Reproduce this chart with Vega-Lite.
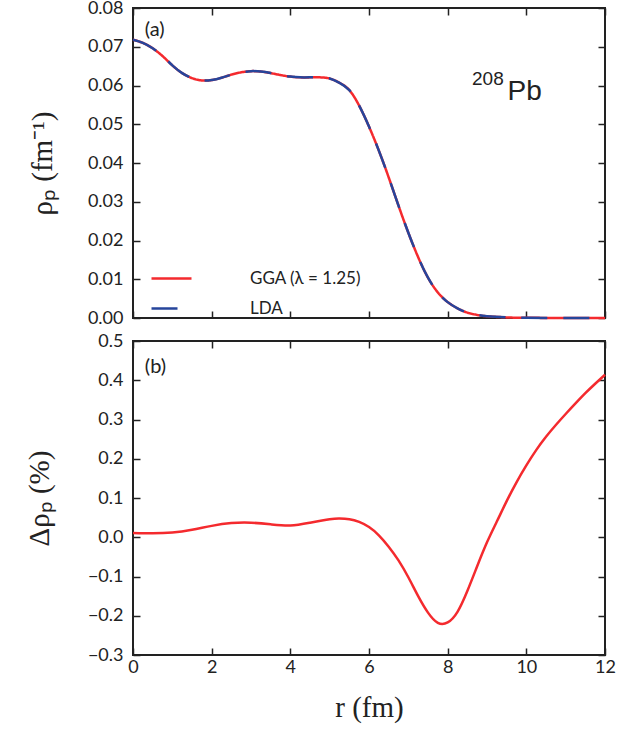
{
  "$schema": "https://vega.github.io/schema/vega-lite/v6.json",
  "autosize": {"type": "none"},
  "padding": {"left": 133, "top": 8, "right": 485, "bottom": 728},
  "config": {
    "view": {"stroke": "#222", "strokeWidth": 2},
    "font": "Lato",
    "axis": {
      "domain": false, "grid": false, "tickSize": -7, "tickWidth": 1.5, "tickColor": "#222",
      "labelFont": "Lato", "labelFontSize": 18, "labelColor": "#222",
      "labelFlush": false, "labelOverlap": false, "labelBound": false,
      "titleFont": "Liberation Serif", "titleFontWeight": "normal", "titleFontSize": 29, "titleColor": "#222"
    }
  },
  "datasets": {
    "top": [
      {"r": 0.0, "GGA": 0.0718, "LDA": 0.0718},
      {"r": 0.25, "GGA": 0.0710, "LDA": 0.0710},
      {"r": 0.5, "GGA": 0.0696, "LDA": 0.0696},
      {"r": 0.75, "GGA": 0.0676, "LDA": 0.0676},
      {"r": 1.0, "GGA": 0.0652, "LDA": 0.0652},
      {"r": 1.25, "GGA": 0.0632, "LDA": 0.0632},
      {"r": 1.5, "GGA": 0.0619, "LDA": 0.0619},
      {"r": 1.75, "GGA": 0.0613, "LDA": 0.0613},
      {"r": 2.0, "GGA": 0.0614, "LDA": 0.0614},
      {"r": 2.25, "GGA": 0.0620, "LDA": 0.0620},
      {"r": 2.5, "GGA": 0.0628, "LDA": 0.0628},
      {"r": 2.75, "GGA": 0.0634, "LDA": 0.0634},
      {"r": 3.0, "GGA": 0.0637, "LDA": 0.0637},
      {"r": 3.25, "GGA": 0.0636, "LDA": 0.0636},
      {"r": 3.5, "GGA": 0.0632, "LDA": 0.0632},
      {"r": 3.75, "GGA": 0.0627, "LDA": 0.0627},
      {"r": 4.0, "GGA": 0.0623, "LDA": 0.0623},
      {"r": 4.25, "GGA": 0.0621, "LDA": 0.0621},
      {"r": 4.5, "GGA": 0.0621, "LDA": 0.0621},
      {"r": 4.75, "GGA": 0.0621, "LDA": 0.0621},
      {"r": 5.0, "GGA": 0.0618, "LDA": 0.0618},
      {"r": 5.25, "GGA": 0.0607, "LDA": 0.0607},
      {"r": 5.5, "GGA": 0.0588, "LDA": 0.0588},
      {"r": 5.75, "GGA": 0.0548, "LDA": 0.0548},
      {"r": 6.0, "GGA": 0.0494, "LDA": 0.0494},
      {"r": 6.25, "GGA": 0.0432, "LDA": 0.0432},
      {"r": 6.5, "GGA": 0.0363, "LDA": 0.0363},
      {"r": 6.75, "GGA": 0.0290, "LDA": 0.0290},
      {"r": 7.0, "GGA": 0.0220, "LDA": 0.0220},
      {"r": 7.25, "GGA": 0.0157, "LDA": 0.0157},
      {"r": 7.5, "GGA": 0.0104, "LDA": 0.0104},
      {"r": 7.75, "GGA": 0.0066, "LDA": 0.0066},
      {"r": 8.0, "GGA": 0.0041, "LDA": 0.0041},
      {"r": 8.25, "GGA": 0.0025, "LDA": 0.0025},
      {"r": 8.5, "GGA": 0.0014, "LDA": 0.0014},
      {"r": 8.75, "GGA": 0.0008, "LDA": 0.0008},
      {"r": 9.0, "GGA": 0.00045, "LDA": 0.00045},
      {"r": 9.5, "GGA": 0.00015, "LDA": 0.00015},
      {"r": 10.0, "GGA": 0.00005, "LDA": 0.00005},
      {"r": 11.0, "GGA": 0.00001, "LDA": 0.00001},
      {"r": 12.0, "GGA": 0.0, "LDA": 0.0}
    ],
    "bottom": [
      {"r": 0.0, "d": 0.011},
      {"r": 0.5, "d": 0.010},
      {"r": 1.0, "d": 0.012},
      {"r": 1.5, "d": 0.019},
      {"r": 2.0, "d": 0.029},
      {"r": 2.5, "d": 0.036},
      {"r": 3.0, "d": 0.037},
      {"r": 3.5, "d": 0.033},
      {"r": 4.0, "d": 0.030},
      {"r": 4.5, "d": 0.037},
      {"r": 5.0, "d": 0.046},
      {"r": 5.25, "d": 0.048},
      {"r": 5.5, "d": 0.046},
      {"r": 5.75, "d": 0.039},
      {"r": 6.0, "d": 0.026},
      {"r": 6.25, "d": 0.005},
      {"r": 6.5, "d": -0.024},
      {"r": 6.75, "d": -0.059},
      {"r": 7.0, "d": -0.102},
      {"r": 7.25, "d": -0.150},
      {"r": 7.5, "d": -0.192},
      {"r": 7.75, "d": -0.218},
      {"r": 8.0, "d": -0.217},
      {"r": 8.25, "d": -0.190},
      {"r": 8.5, "d": -0.137},
      {"r": 8.75, "d": -0.074},
      {"r": 9.0, "d": -0.013},
      {"r": 9.25, "d": 0.040},
      {"r": 9.5, "d": 0.092},
      {"r": 9.75, "d": 0.140},
      {"r": 10.0, "d": 0.183},
      {"r": 10.25, "d": 0.222},
      {"r": 10.5, "d": 0.256},
      {"r": 10.75, "d": 0.286},
      {"r": 11.0, "d": 0.314},
      {"r": 11.25, "d": 0.341},
      {"r": 11.5, "d": 0.367},
      {"r": 11.75, "d": 0.391},
      {"r": 12.0, "d": 0.414}
    ]
  },
  "spacing": 23,
  "bounds": "flush",
  "resolve": {"legend": {"stroke": "independent", "strokeDash": "independent"}},
  "vconcat": [
    {
      "width": 472,
      "height": 310,
      "layer": [
        {
          "data": {"name": "top"},
          "transform": [{"fold": ["GGA", "LDA"], "as": ["model", "rho"]}],
          "mark": {"type": "line", "interpolate": "natural", "strokeWidth": 2.5},
          "encoding": {
            "x": {"field": "r", "type": "quantitative", "scale": {"domain": [0, 12], "nice": false},
                  "axis": {"orient": "bottom", "values": [0, 2, 4, 6, 8, 10, 12], "labels": false, "title": null}},
            "y": {"field": "rho", "type": "quantitative", "scale": {"domain": [0, 0.08], "nice": false, "zero": false},
                  "axis": {"orient": "left", "values": [0, 0.01, 0.02, 0.03, 0.04, 0.05, 0.06, 0.07, 0.08], "format": ".2f",
                           "labelPadding": 17, "title": "ρₚ (fm⁻¹)", "titlePadding": 30}},
            "stroke": {"field": "model", "type": "nominal",
                       "scale": {"domain": ["GGA", "LDA"], "range": ["#f42a2e", "#26459b"]},
                       "legend": {"title": null, "orient": "none", "legendX": 17, "legendY": 249, "padding": 0,
                                  "symbolType": "stroke", "symbolSize": 1600, "symbolStrokeWidth": 2.5,
                                  "labelOffset": 57, "labelFont": "Lato", "labelFontSize": 17, "labelColor": "#222",
                                  "rowPadding": -18,
                                  "labelExpr": "datum.label == 'GGA' ? 'GGA (λ = 1.25)' : 'LDA'"}},
            "strokeDash": {"field": "model", "type": "nominal",
                           "scale": {"domain": ["GGA", "LDA"], "range": [[1, 0], [26, 16]]},
                           "legend": {"title": null, "orient": "none", "legendX": 17, "legendY": 249, "padding": 0,
                                      "symbolType": "stroke", "symbolSize": 1600, "symbolStrokeWidth": 2.5,
                                      "labelOffset": 57, "labelFont": "Lato", "labelFontSize": 17, "labelColor": "#222",
                                      "rowPadding": -18,
                                      "labelExpr": "datum.label == 'GGA' ? 'GGA (λ = 1.25)' : 'LDA'"}}
          }
        },
        {
          "data": {"name": "top"},
          "mark": {"type": "line", "strokeOpacity": 0},
          "encoding": {
            "x": {"field": "r", "type": "quantitative", "axis": {"orient": "top", "values": [0, 2, 4, 6, 8, 10, 12], "labels": false, "title": null}},
            "y": {"field": "GGA", "type": "quantitative", "axis": {"orient": "right", "values": [0, 0.01, 0.02, 0.03, 0.04, 0.05, 0.06, 0.07, 0.08], "labels": false, "title": null}}
          }
        },
        {
          "data": {"values": [{"label": "(a)"}]},
          "mark": {"type": "text", "align": "left", "baseline": "middle", "font": "Lato", "fontSize": 20, "color": "#222"},
          "encoding": {
            "x": {"datum": 0.3, "type": "quantitative", "axis": null},
            "y": {"datum": 0.0742, "type": "quantitative", "axis": null},
            "text": {"field": "label"}
          }
        },
        {
          "data": {"values": [{"label": "208"}]},
          "mark": {"type": "text", "align": "left", "baseline": "alphabetic", "font": "Liberation Sans", "fontSize": 19, "color": "#222"},
          "encoding": {
            "x": {"datum": 8.62, "type": "quantitative", "axis": null},
            "y": {"datum": 0.0601, "type": "quantitative", "axis": null},
            "text": {"field": "label"}
          }
        },
        {
          "data": {"values": [{"label": "Pb"}]},
          "mark": {"type": "text", "align": "left", "baseline": "alphabetic", "font": "Liberation Sans", "fontSize": 28, "color": "#222"},
          "encoding": {
            "x": {"datum": 9.52, "type": "quantitative", "axis": null},
            "y": {"datum": 0.0563, "type": "quantitative", "axis": null},
            "text": {"field": "label"}
          }
        }
      ],
      "resolve": {"axis": {"x": "independent", "y": "independent"}}
    },
    {
      "width": 472,
      "height": 314,
      "layer": [
        {
          "data": {"name": "bottom"},
          "mark": {"type": "line", "interpolate": "natural", "stroke": "#f42a2e", "strokeWidth": 2.5},
          "encoding": {
            "x": {"field": "r", "type": "quantitative", "scale": {"domain": [0, 12], "nice": false},
                  "axis": {"orient": "bottom", "values": [0, 2, 4, 6, 8, 10, 12], "labelPadding": 10, "title": "r (fm)", "titlePadding": 17}},
            "y": {"field": "d", "type": "quantitative", "scale": {"domain": [-0.3, 0.5], "nice": false, "zero": false},
                  "axis": {"orient": "left", "values": [-0.3, -0.2, -0.1, 0, 0.1, 0.2, 0.3, 0.4, 0.5], "format": ".1f",
                           "labelPadding": 17, "title": "Δρₚ (%)", "titlePadding": 33}}
          }
        },
        {
          "data": {"name": "bottom"},
          "mark": {"type": "line", "strokeOpacity": 0},
          "encoding": {
            "x": {"field": "r", "type": "quantitative", "axis": {"orient": "top", "values": [0, 2, 4, 6, 8, 10, 12], "labels": false, "title": null}},
            "y": {"field": "d", "type": "quantitative", "axis": {"orient": "right", "values": [-0.3, -0.2, -0.1, 0, 0.1, 0.2, 0.3, 0.4, 0.5], "labels": false, "title": null}}
          }
        },
        {
          "data": {"values": [{"label": "(b)"}]},
          "mark": {"type": "text", "align": "left", "baseline": "middle", "font": "Lato", "fontSize": 20, "color": "#222"},
          "encoding": {
            "x": {"datum": 0.3, "type": "quantitative", "axis": null},
            "y": {"datum": 0.434, "type": "quantitative", "axis": null},
            "text": {"field": "label"}
          }
        }
      ],
      "resolve": {"axis": {"x": "independent", "y": "independent"}}
    }
  ]
}
